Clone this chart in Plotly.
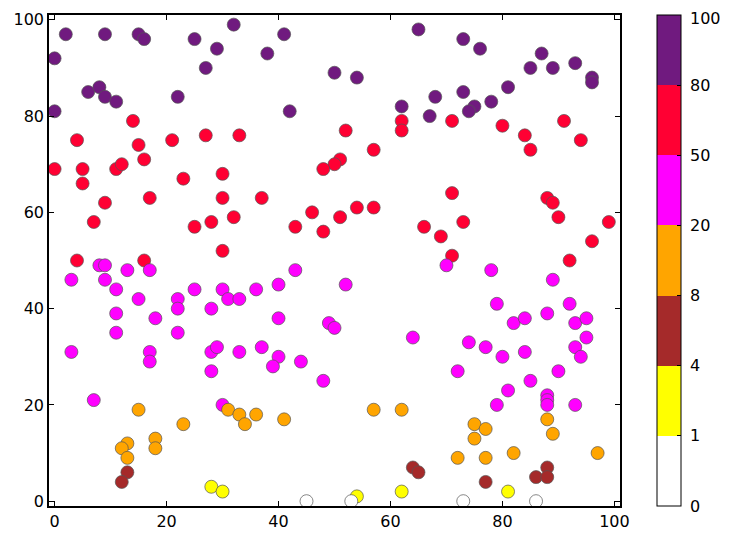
import numpy as np
import plotly.graph_objects as go

# 点数据 (x, y)，颜色由 y 值按分段色阶决定
x_vals = [2, 9, 15, 16, 25, 29, 32, 0, 27, 6, 8, 9, 11, 22, 0,
          41, 38, 50, 54, 65, 42, 62, 67,
          73, 76, 87, 85, 89, 93, 96, 96, 68, 73, 81, 78, 75, 74,
          14, 4, 15, 21, 27, 33, 16, 0, 5, 11, 12, 23, 30, 5,
          52, 62, 62, 57, 51, 50, 48,
          71, 80, 91, 84, 94, 85,
          9, 17, 30, 7, 25, 28, 32, 30, 4, 16,
          37, 46, 51, 54, 57, 43, 48, 66,
          71, 88, 89, 69, 73, 90, 99, 96, 71, 92,
          8, 9, 13, 17, 3, 9, 11, 15, 22, 25, 30, 31, 33, 11, 18, 22, 28, 11, 22,
          43, 40, 52, 36, 40, 49, 50, 64,
          70, 78, 89, 79, 92, 82, 84, 88, 93, 95, 95, 74,
          3, 17, 17, 28, 29, 33, 28, 7, 30,
          37, 40, 39, 44, 48,
          77, 80, 84, 93, 94, 72, 90, 85, 81, 79, 88, 88, 88, 93,
          15, 31, 33, 23, 18, 18, 13, 12, 13, 34, 36, 41, 57, 62,
          75, 77, 75, 88, 89, 72, 77, 82, 97,
          13, 12, 64, 65, 88, 86, 88, 77,
          28, 30, 62, 54, 81,
          45, 53, 73, 86]
y_vals = [97, 97, 97, 96, 96, 94, 99, 92, 90, 85, 86, 84, 83, 84, 81,
          97, 93, 89, 88, 98, 81, 82, 80,
          96, 94, 93, 90, 90, 91, 88, 87, 84, 85, 86, 83, 82, 81,
          79, 75, 74, 75, 76, 76, 71, 69, 69, 69, 70, 67, 68, 66,
          77, 79, 77, 73, 71, 70, 69,
          79, 78, 79, 76, 75, 73,
          62, 63, 63, 58, 57, 58, 59, 52, 50, 50,
          63, 60, 59, 61, 61, 57, 56, 57,
          64, 63, 62, 55, 58, 59, 58, 54, 51, 50,
          49, 49, 48, 48, 46, 46, 44, 42, 42, 44, 44, 42, 42, 39, 38, 40, 40, 35, 35,
          48, 45, 45, 44, 38, 37, 36, 34,
          49, 48, 46, 41, 41, 37, 38, 39, 37, 38, 34, 33,
          31, 31, 29, 31, 32, 31, 27, 21, 20,
          32, 30, 28, 29, 25,
          32, 30, 31, 32, 30, 27, 27, 25, 23, 20, 22, 21, 20, 20,
          19, 19, 18, 16, 13, 11, 12, 11, 9, 16, 18, 17, 19, 19,
          16, 15, 13, 17, 14, 9, 9, 10, 10,
          6, 4, 7, 6, 7, 5, 5, 4,
          3, 2, 2, 1, 2,
          0, 0, 0, 0]

# 色阶分段
cb_levels = [0, 1, 4, 8, 20, 50, 80, 100]
cb_colors = ['#FFFFFF', '#FFFF00', '#A52A2A', '#FFA500',
             '#FF00FF', '#FF0033', '#701A7F']

# 把 y 映射到等间距的色阶区间
band = np.clip(np.searchsorted(cb_levels, y_vals, side='right') - 1, 0, len(cb_colors) - 1)
cval = band + 0.5

n = len(cb_colors)
colorscale = []
for i, c in enumerate(cb_colors):
    colorscale.append([i / n, c])
    colorscale.append([(i + 1) / n, c])

FONT = 'DejaVu Sans'

fig = go.Figure()
fig.add_trace(go.Scatter(
    x=x_vals,
    y=y_vals,
    mode='markers',
    marker=dict(
        size=13,
        color=cval,
        colorscale=colorscale,
        cmin=0,
        cmax=n,
        line=dict(width=0.7, color='#555555'),
        colorbar=dict(
            x=1.0648,
            xanchor='left',
            y=0.5,
            yanchor='middle',
            len=1.0,
            lenmode='fraction',
            thickness=24,
            outlinewidth=1,
            outlinecolor='black',
            tickvals=list(range(n + 1)),
            ticks='inside',
            ticklen=4,
            tickcolor='black',
            showticklabels=False,
            xpad=0,
            ypad=0,
        ),
    ),
    showlegend=False,
    hoverinfo='x+y',
))

# 色条刻度文字用注释画（两端的标签否则会被隐藏）
for i, lv in enumerate(cb_levels):
    fig.add_annotation(
        x=1.1261, y=i / n, xref='paper', yref='paper',
        xanchor='left', yanchor='middle', xshift=-3,
        yshift=-3 if i == n else 0,
        text=str(lv), showarrow=False, borderpad=0,
        font=dict(family=FONT, size=16, color='black'),
    )

axis_style = dict(
    range=[-1, 101],
    tickvals=[0, 20, 40, 60, 80, 100],
    ticks='inside',
    ticklen=5,
    tickcolor='black',
    showline=True,
    linecolor='black',
    linewidth=1.5,
    mirror='ticks',
    showgrid=False,
    zeroline=False,
    tickfont=dict(family=FONT, size=16, color='black'),
)

# 页面 body 有 8px 边距，图尺寸相应缩小
fig.update_layout(
    width=721,
    height=531,
    margin=dict(l=41, r=109, t=7, b=33, autoexpand=False),
    plot_bgcolor='#FFFFFF',
    paper_bgcolor='#FFFFFF',
    xaxis=axis_style,
    yaxis=axis_style,
    font=dict(family=FONT),
)

fig.write_html("out.html")
